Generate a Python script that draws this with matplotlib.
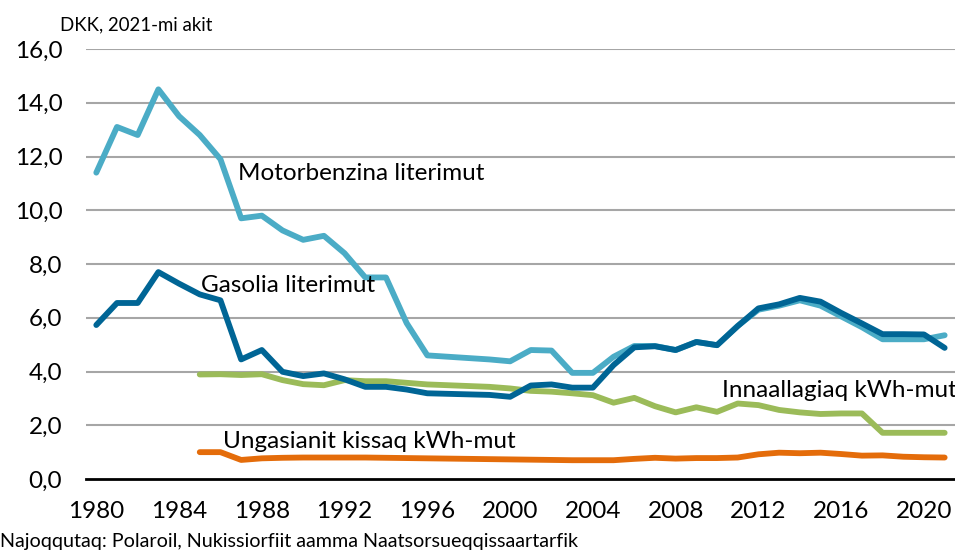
import matplotlib.pyplot as plt

years = list(range(1980, 2022))
years_el = list(range(1985, 2022))

benzin = [11.4, 13.1, 12.8, 14.5, 13.5, 12.8, 11.9, 9.7, 9.8, 9.25,
          8.9, 9.05, 8.4, 7.5, 7.5, 5.8, 4.6, 4.55, 4.5, 4.45,
          4.38, 4.8, 4.78, 3.95, 3.95, 4.55, 4.95, 4.95, 4.8, 5.1,
          4.98, 5.7, 6.3, 6.45, 6.65, 6.45, 6.05, 5.65, 5.2, 5.2,
          5.2, 5.35]

gasolia = [5.73, 6.55, 6.55, 7.7, 7.27, 6.87, 6.65, 4.45, 4.8, 3.99,
           3.83, 3.93, 3.71, 3.43, 3.43, 3.33, 3.19, 3.17, 3.15, 3.13,
           3.06, 3.48, 3.52, 3.4, 3.4, 4.24, 4.9, 4.94, 4.8, 5.1,
           4.98, 5.69, 6.35, 6.5, 6.74, 6.6, 6.18, 5.79, 5.39, 5.39,
           5.38, 4.88]

innaallagiaq = [3.89, 3.9, 3.87, 3.9, 3.68, 3.53, 3.49, 3.68, 3.64, 3.64,
                3.58, 3.52, 3.49, 3.46, 3.43, 3.37, 3.28, 3.25, 3.19, 3.12,
                2.84, 3.02, 2.71, 2.48, 2.67, 2.5, 2.81, 2.75, 2.57, 2.48,
                2.42, 2.44, 2.44, 1.72, 1.72, 1.72, 1.72]

kissaq = [1.0, 1.0, 0.71, 0.77, 0.79, 0.8, 0.8, 0.8, 0.8, 0.79,
          0.78, 0.77, 0.76, 0.75, 0.74, 0.73, 0.72, 0.71, 0.7, 0.7,
          0.7, 0.75, 0.79, 0.76, 0.78, 0.78, 0.8, 0.92, 0.98, 0.96,
          0.98, 0.93, 0.87, 0.88, 0.83, 0.81, 0.8]

yticks = [0, 2, 4, 6, 8, 10, 12, 14, 16]
xticks = list(range(1980, 2021, 4))

plt.rcParams['font.family'] = ['Lato', 'DejaVu Sans']
fs = 17.5

fig = plt.figure(figsize=(9.55, 5.52), dpi=100)
ax = fig.add_axes([0.09, 0.1322, 0.91, 0.7790])

ax.set_xlim(1979.5, 2021.5)
ax.set_ylim(0, 16)

for y in yticks[1:]:
    ax.axhline(y, color='#A6A6A6', linewidth=1.5, zorder=1)

kw = dict(linewidth=4.2, solid_capstyle='round', solid_joinstyle='round', zorder=3)
ax.plot(years_el, kissaq, color='#E46C0A', **kw)
ax.plot(years_el, innaallagiaq, color='#9BBB59', **kw)
ax.plot(years, benzin, color='#4BACC6', **kw)
ax.plot(years, gasolia, color='#006595', **kw)

for side in ['top', 'right', 'left']:
    ax.spines[side].set_visible(False)
ax.spines['bottom'].set_linewidth(2)
ax.spines['bottom'].set_color('black')
ax.spines['bottom'].set_zorder(4)

ax.set_yticks(yticks)
ax.set_yticklabels([f'{v:.1f}'.replace('.', ',') for v in yticks], fontsize=fs)
ax.set_xticks(xticks)
ax.set_xticklabels([str(v) for v in xticks], fontsize=fs)
ax.tick_params(length=0)
ax.tick_params(axis='x', pad=16)
ax.tick_params(axis='y', pad=17)

ax.text(1986.85, 11.38, 'Motorbenzina literimut', fontsize=fs, va='center')
ax.text(1985.06, 7.21, 'Gasolia literimut', fontsize=fs, va='center')
ax.text(2010.24, 3.31, 'Innaallagiaq kWh-mut', fontsize=fs, va='center')
ax.text(1986.12, 1.41, 'Ungasianit kissaq kWh-mut', fontsize=fs, va='center')

fig.text(60 / 955, 1 - 25 / 552, 'DKK, 2021-mi akit', fontsize=13.4, va='center')
fig.text(0.0, 1 - 541 / 552, 'Najoqqutaq: Polaroil, Nukissiorfiit aamma Naatsorsueqqissaartarfik',
         fontsize=14.2, va='center')

fig.savefig('out.png', dpi=100)
